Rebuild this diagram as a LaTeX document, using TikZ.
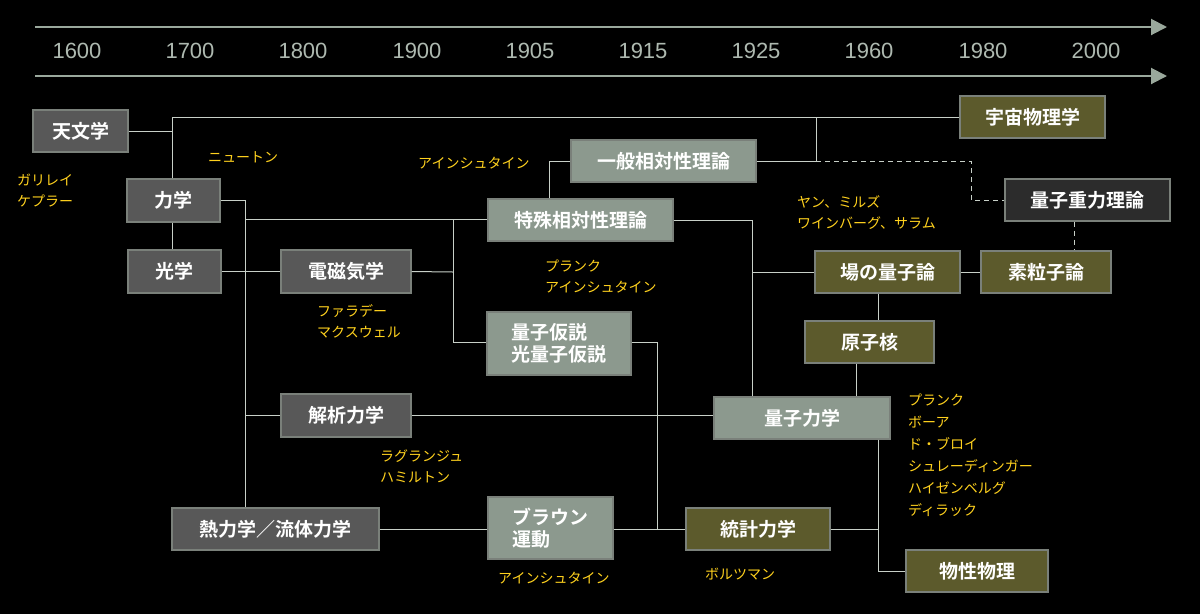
\documentclass[tikz,border=0pt]{standalone}
\usepackage{fontspec}
\setmainfont{Liberation Sans}
\newfontfamily\jp{Noto Sans CJK JP}
\newfontfamily\jpb{Noto Sans CJK JP Bold}
\usetikzlibrary{arrows.meta}
\definecolor{dg}{HTML}{585858}
\definecolor{lg}{HTML}{8C998E}
\definecolor{ol}{HTML}{5C5A2C}
\definecolor{qg}{HTML}{2C2C2C}
\definecolor{bd}{HTML}{7A807A}
\definecolor{ln}{HTML}{C8D0C8}
\definecolor{yl}{HTML}{FFD21E}
\definecolor{ax}{HTML}{9AA89C}
\tikzset{
 bx/.style={draw=bd,line width=1.2pt,text=white,font=\jpb\fontsize{19}{22}\selectfont,inner sep=0pt,align=left},
 lnk/.style={draw=ln,line width=1pt},
 dsh/.style={draw=ln,line width=1pt,dash pattern=on 5pt off 4pt},
 nm/.style={text=yl,font=\jp\fontsize{14}{21}\selectfont,anchor=north west,align=left,inner sep=0pt},
 yr/.style={text=ax!80!white,font=\fontsize{22}{24}\selectfont}
}
\newcommand{\bxat}[6]{\node[bx,fill=#6,minimum width=#3-#1,minimum height=#4-#2] (#5) at ({(#1+#3)/2},{(#2+#4)/2})}
\begin{document}
\begin{tikzpicture}[x=1pt,y=-1pt]
\fill[black] (0,0) rectangle (1200,614);
\useasboundingbox (0,0) rectangle (1200,614);
% timeline
\coordinate (a1) at (35,27); \coordinate (a2) at (1167,27);
\coordinate (b1) at (35,76); \coordinate (b2) at (1167,76);
\draw[ax,line width=2pt,-{Triangle[length=16pt,width=16pt]}] (a1) -- (a2);
\draw[ax,line width=2pt,-{Triangle[length=16pt,width=16pt]}] (b1) -- (b2);
\foreach \y/\x in {1600/77,1700/190,1800/303,1900/417,1905/530,1915/643,1925/756,1960/869,1980/983,2000/1096}
  \node[yr] (y\y) at (\x,51) {\y};
% boxes
\bxat{33}{110}{128}{152}{ten}{dg}{天文学};
\bxat{127}{179}{220}{222}{riki}{dg}{力学};
\bxat{128}{250}{221}{293}{kou}{dg}{光学};
\bxat{281}{250}{411}{293}{den}{dg}{電磁気学};
\bxat{488}{199}{673}{241}{tok}{lg}{特殊相対性理論};
\bxat{571}{140}{756}{182}{ipp}{lg}{一般相対性理論};
\bxat{960}{96}{1105}{138}{uch}{ol}{宇宙物理学};
\bxat{1005}{179}{1170}{221}{jur}{qg}{量子重力理論};
\bxat{981}{251}{1111}{293}{sor}{ol}{素粒子論};
\bxat{815}{251}{960}{293}{ba}{ol}{場の量子論};
\bxat{805}{321}{934}{363}{gen}{ol}{原子核};
\bxat{487}{312}{631}{375}{kas}{lg}{量子仮説\\光量子仮説};
\bxat{281}{394}{411}{437}{kai}{dg}{解析力学};
\bxat{172}{508}{379}{550}{net}{dg}{熱力学／流体力学};
\bxat{488}{497}{613}{559}{bro}{lg}{ブラウン\\運動};
\bxat{686}{508}{830}{550}{tou}{ol}{統計力学};
\bxat{714}{397}{890}{439}{ryo}{lg}{量子力学};
\bxat{906}{550}{1048}{592}{bus}{ol}{物性物理};
% connectors
\coordinate (j1) at (172,131); \coordinate (j2) at (172,117); \coordinate (j3) at (816,117);
\coordinate (j4) at (816,161);
\draw[lnk] (ten.east) -- (j1);
\draw[lnk] (riki.north -| j1) -- (j2) -- (uch.west |- j2);
\draw[lnk] (j3) -- (j4) -- (ipp.east |- j4);
\coordinate (d1) at (971,161); \coordinate (d2) at (971,200);
\draw[dsh] (j4) -- (d1) -- (d2) -- (jur.west |- d2);
\draw[dsh] (jur.south -| 1074,0) -- (sor.north -| 1074,0);
\draw[lnk] (riki.south -| 172,0) -- (kou.north -| 172,0);
\draw[lnk] (ba.east) -- (sor.west);
\draw[lnk] (ba.south -| 878,0) -- (gen.north -| 878,0);
\draw[lnk] (gen.south -| 856,0) -- (ryo.north -| 856,0);
\coordinate (m1) at (245,200); \coordinate (m2) at (245,219);
\draw[lnk] (riki.east |- m1) -- (m1) -- (net.north -| m1);
\draw[lnk] (m2) -- (tok.west |- m2);
\draw[lnk] (kou.east) -- (den.west);
\coordinate (e1) at (453,272); \coordinate (e2) at (453,219); \coordinate (e3) at (453,342);
\draw[lnk] (den.east) -- (e1);
\draw[lnk] (e2) -- (e3) -- (kas.west |- e3);
\coordinate (s1) at (549,161);
\draw[lnk] (tok.north -| s1) -- (s1) -- (ipp.west |- s1);
\coordinate (t1) at (752,220); \coordinate (t2) at (752,272);
\draw[lnk] (tok.east |- t1) -- (t1) -- (ryo.north -| t1);
\draw[lnk] (t2) -- (ba.west |- t2);
\coordinate (k1) at (657,342); \coordinate (k2) at (657,529);
\draw[lnk] (kas.east |- k1) -- (k1) -- (k2);
\draw[lnk] (kai.west -| m1) -- (kai.west);
\draw[lnk] (kai.east) -- (ryo.west |- kai.east);
\draw[lnk] (net.east) -- (bro.west |- net.east);
\draw[lnk] (bro.east |- net.east) -- (tou.west);
\coordinate (q1) at (878,571);
\draw[lnk] (tou.east) -- (tou.east -| q1);
\draw[lnk] (ryo.south -| q1) -- (q1) -- (bus.west |- q1);
% names
\node[nm] (n1) at (17,174) {ガリレイ\\ケプラー};
\node[nm] (n2) at (208,151) {ニュートン};
\node[nm] (n3) at (418,157) {アインシュタイン};
\node[nm] (n4) at (797,195) {ヤン、ミルズ\\ワインバーグ、サラム};
\node[nm] (n5) at (545,260) {プランク\\アインシュタイン};
\node[nm] (n6) at (317,304) {ファラデー\\マクスウェル};
\node[nm] (n7) at (380,450) {ラグランジュ\\ハミルトン};
\node[nm] (n8) at (498,572) {アインシュタイン};
\node[nm] (n9) at (705,568) {ボルツマン};
\node[nm,font=\jp\fontsize{14}{22}\selectfont] (n10) at (908,394) {プランク\\ボーア\\ド・ブロイ\\シュレーディンガー\\ハイゼンベルグ\\ディラック};
\end{tikzpicture}
\end{document}
